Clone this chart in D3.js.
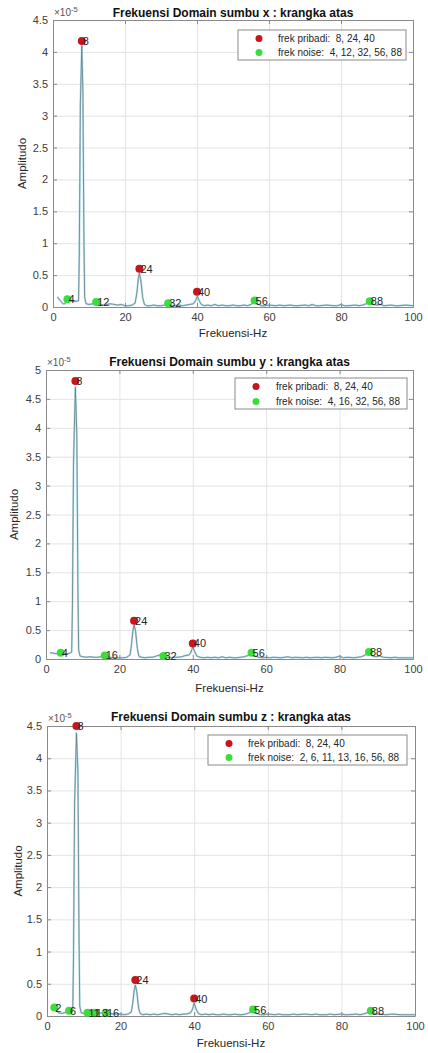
<!DOCTYPE html>
<html>
<head>
<meta charset="utf-8">
<script src="https://cdn.jsdelivr.net/npm/d3@7/dist/d3.min.js"></script>
<style>
    body { margin: 0; background: #fff; }
    svg { display: block; font-family: "Liberation Sans", Arial, sans-serif; }
</style>
</head>
<body>
<div id="chart"></div>
<script>
// values in units of 1e-5
var titles = [
    "Frekuensi Domain sumbu x : krangka atas",
    "Frekuensi Domain sumbu y : krangka atas",
    "Frekuensi Domain sumbu z : krangka atas"
];
var yMaxes = [4.5, 5, 4.5];
var xTicks = [0, 20, 40, 60, 80, 100];

var pribadiFreqs = [8, 24, 40];
var pribadiAmpX = [4.17, 0.6, 0.24];
var pribadiAmpY = [4.81, 0.66, 0.27];
var pribadiAmpZ = [4.5, 0.56, 0.27];

var noiseFreqX = [4, 12, 32, 56, 88];
var noiseAmpX = [0.12, 0.08, 0.06, 0.1, 0.09];
var noiseFreqY = [4, 16, 32, 56, 88];
var noiseAmpY = [0.11, 0.06, 0.05, 0.11, 0.12];
var noiseFreqZ = [2, 6, 11, 13, 16, 56, 88];
var noiseAmpZ = [0.13, 0.08, 0.05, 0.05, 0.05, 0.1, 0.08];

var legendPribadi = "frek pribadi:  8, 24, 40";
var legendNoiseX = "frek noise:  4, 12, 32, 56, 88";
var legendNoiseY = "frek noise:  4, 16, 32, 56, 88";
var legendNoiseZ = "frek noise:  2, 6, 11, 13, 16, 56, 88";

// [frequency Hz, amplitude]
var spectrumX = [[1.2,0.16],[2,0.1],[2.8,0.05],[3.3,0.05],[4,0.12],[4.6,0.1],[5.5,0.09],[6.5,0.09],[7.1,0.1],[7.3,0.8],[7.6,3.2],[8,4.1],[8.3,3.4],[8.6,1.0],[8.8,0.15],[9.2,0.05],[10,0.04],[11,0.05],[12,0.07],[13,0.04],[14,0.03],[15,0.04],[16,0.05],[17,0.04],[18,0.03],[19,0.04],[20,0.02],[21,0.02],[22,0.03],[22.8,0.06],[23.3,0.22],[23.7,0.45],[24,0.53],[24.4,0.42],[24.9,0.15],[25.4,0.04],[26,0.02],[27,0.02],[28,0.03],[29,0.02],[30,0.02],[31,0.03],[32,0.05],[33,0.02],[34,0.02],[35,0.03],[36,0.02],[37,0.03],[38,0.04],[39,0.05],[39.6,0.1],[40.1,0.17],[40.6,0.1],[41.2,0.04],[42,0.02],[43,0.03],[44,0.02],[45,0.04],[46,0.02],[47,0.03],[48,0.02],[49,0.02],[50,0.03],[51,0.02],[52,0.02],[53,0.03],[54,0.02],[55,0.04],[56,0.08],[57,0.04],[58,0.02],[59,0.02],[60,0.03],[62,0.02],[63,0.03],[64,0.02],[66,0.03],[67,0.02],[68,0.02],[70,0.03],[71,0.02],[72,0.04],[73,0.02],[74,0.02],[76,0.03],[78,0.02],[79,0.02],[80,0.04],[81,0.02],[82,0.02],[84,0.03],[85,0.02],[86,0.03],[87,0.05],[88,0.08],[89,0.04],[90,0.03],[91,0.04],[92,0.02],[94,0.03],[95,0.02],[96,0.02],[98,0.03],[100,0.02]];

var spectrumY = [[1.1,0.11],[2,0.1],[3,0.09],[3.6,0.09],[4,0.11],[4.6,0.1],[5.5,0.09],[6.5,0.1],[7,0.12],[7.2,0.9],[7.5,3.4],[8,4.7],[8.4,3.9],[8.7,1.2],[8.9,0.15],[9.3,0.05],[10,0.04],[11,0.03],[12,0.04],[13,0.03],[14,0.03],[15,0.04],[16,0.06],[17,0.04],[18,0.02],[19,0.02],[20,0.02],[21,0.02],[22,0.03],[22.9,0.07],[23.3,0.25],[23.7,0.5],[24,0.59],[24.4,0.48],[24.9,0.18],[25.3,0.05],[26,0.03],[27,0.02],[28,0.03],[29,0.03],[30,0.05],[31,0.07],[32,0.05],[33,0.03],[34,0.02],[35,0.03],[36,0.03],[37,0.04],[38,0.06],[39,0.07],[39.5,0.12],[40,0.21],[40.5,0.13],[41.1,0.05],[42,0.03],[43,0.02],[44,0.03],[45,0.02],[46,0.03],[47,0.02],[48,0.04],[49,0.02],[50,0.03],[51,0.02],[52,0.02],[53,0.03],[54,0.04],[55,0.06],[56,0.09],[57,0.05],[58,0.03],[59,0.02],[60,0.03],[61,0.02],[62,0.03],[64,0.02],[65,0.03],[66,0.04],[67,0.02],[68,0.03],[70,0.02],[71,0.03],[72,0.02],[74,0.03],[75,0.02],[76,0.03],[78,0.02],[79,0.03],[80,0.05],[81,0.02],[82,0.03],[84,0.02],[85,0.03],[86,0.04],[87,0.07],[88,0.1],[89,0.05],[90,0.04],[91,0.05],[92,0.03],[94,0.02],[95,0.03],[96,0.02],[98,0.02],[100,0.02]];

var spectrumZ = [[1,0.12],[1.6,0.13],[2,0.12],[2.6,0.08],[3.2,0.05],[4,0.04],[4.8,0.05],[5.5,0.07],[6,0.08],[6.6,0.07],[7,0.1],[7.2,0.9],[7.5,3.3],[8,4.39],[8.4,3.8],[8.7,1.2],[8.9,0.15],[9.3,0.05],[10,0.04],[11,0.05],[12,0.04],[13,0.05],[14,0.04],[15,0.05],[16,0.05],[17,0.04],[18,0.03],[19,0.03],[20,0.03],[21,0.02],[22,0.03],[22.9,0.06],[23.3,0.2],[23.7,0.4],[24,0.48],[24.4,0.38],[24.9,0.12],[25.3,0.04],[26,0.02],[27,0.03],[28,0.02],[29,0.03],[30,0.02],[31,0.03],[32,0.04],[33,0.03],[34,0.02],[35,0.03],[36,0.02],[37,0.03],[38,0.03],[39,0.05],[39.5,0.1],[40,0.2],[40.5,0.11],[41.1,0.04],[42,0.02],[43,0.03],[44,0.02],[45,0.03],[46,0.02],[47,0.02],[48,0.03],[49,0.02],[50,0.02],[51,0.03],[52,0.02],[53,0.02],[54,0.03],[55,0.05],[56,0.09],[57,0.04],[58,0.02],[59,0.02],[60,0.03],[62,0.02],[63,0.03],[64,0.02],[66,0.02],[67,0.03],[68,0.02],[70,0.03],[72,0.02],[73,0.03],[74,0.02],[76,0.02],[77,0.03],[78,0.02],[80,0.03],[81,0.02],[82,0.02],[84,0.03],[85,0.02],[86,0.03],[87,0.05],[88,0.07],[89,0.04],[90,0.03],[92,0.02],[94,0.03],[96,0.02],[98,0.02],[100,0.02]];

SpectrumChart = function(_svg, _box, _opts){
    vis = this;

    this.svg = _svg;
    this.box = _box;
    this.opts = _opts;
    this.width = _box.right - _box.left;
    this.height = _box.bottom - _box.top;

    this.initVis();
};

SpectrumChart.prototype.initVis = function() {
    vis = this;
    var o = vis.opts, b = vis.box;

    vis.g = vis.svg.append("g")
        .attr("transform", "translate(" + b.left + "," + b.top + ")");

    vis.x = d3.scaleLinear().domain([0, 100]).range([0, vis.width]);
    vis.y = d3.scaleLinear().domain([0, o.yMax]).range([vis.height, 0]);
    var yTicks = d3.range(0, o.yMax + 0.001, 0.5);

    // grid
    vis.g.append("g")
        .attr("class", "grid")
        .call(d3.axisLeft(vis.y).tickValues(yTicks).tickSize(-vis.width).tickFormat(""));
    vis.g.append("g")
        .attr("class", "grid")
        .attr("transform", "translate(0," + vis.height + ")")
        .call(d3.axisBottom(vis.x).tickValues(xTicks).tickSize(-vis.height).tickFormat(""));
    vis.g.selectAll(".grid line").attr("stroke", "#e3e3e3").attr("stroke-width", 1);
    vis.g.selectAll(".grid .domain").remove();

    // spectrum line: light halo + thin dark trace
    var line = d3.line()
        .x(function(d) { return vis.x(d[0]); })
        .y(function(d) { return vis.y(d[1]); });
    vis.g.append("path")
        .datum(o.spectrum)
        .attr("d", line)
        .attr("fill", "none")
        .attr("stroke", "#b8dfeb")
        .attr("stroke-width", 2)
        .attr("stroke-linejoin", "round");
    vis.g.append("path")
        .datum(o.spectrum)
        .attr("d", line)
        .attr("fill", "none")
        .attr("stroke", "#55717b")
        .attr("stroke-width", 0.7);

    // axes
    var axL = vis.g.append("g")
        .call(d3.axisLeft(vis.y).tickValues(yTicks).tickFormat(d3.format("~g"))
            .tickSizeInner(-4).tickSizeOuter(0).tickPadding(5));
    var axB = vis.g.append("g")
        .attr("transform", "translate(0," + vis.height + ")")
        .call(d3.axisBottom(vis.x).tickValues(xTicks)
            .tickSizeInner(-4).tickSizeOuter(0).tickPadding(6));
    var axR = vis.g.append("g")
        .attr("transform", "translate(" + vis.width + ",0)")
        .call(d3.axisRight(vis.y).tickValues(yTicks).tickFormat("").tickSizeInner(-4).tickSizeOuter(0));
    var axT = vis.g.append("g")
        .call(d3.axisTop(vis.x).tickValues(xTicks).tickFormat("").tickSizeInner(-4).tickSizeOuter(0));
    [axL, axB, axR, axT].forEach(function(a) {
        a.selectAll(".domain").attr("stroke", "#8a8a8a");
        a.selectAll("line").attr("stroke", "#8a8a8a");
        a.selectAll("text").attr("fill", "#404040").attr("font-size", "11px")
            .attr("font-family", "Liberation Sans, Arial, sans-serif");
    });

    // markers
    var marks = [];
    o.pribadiAmp.forEach(function(a, i) { marks.push({f: pribadiFreqs[i], a: a, c: "#c4161c"}); });
    o.noiseAmp.forEach(function(a, i) { marks.push({f: o.noiseFreq[i], a: a, c: "#3ddc3d"}); });
    vis.g.selectAll(".mk").data(marks).enter().append("circle")
        .attr("cx", function(d) { return vis.x(d.f); })
        .attr("cy", function(d) { return vis.y(d.a); })
        .attr("r", 4)
        .attr("fill", function(d) { return d.c; });
    vis.g.selectAll(".lb").data(marks).enter().append("text")
        .attr("x", function(d) { return vis.x(d.f) + 1; })
        .attr("y", function(d) { return vis.y(d.a); })
        .attr("dy", "0.36em")
        .attr("font-size", "11px")
        .attr("fill", "#262626")
        .text(function(d) { return d.f; });

    // title, labels
    vis.svg.append("text")
        .attr("x", b.left + vis.width / 2)
        .attr("y", o.titleY)
        .attr("text-anchor", "middle")
        .attr("font-size", "12px")
        .attr("font-weight", "bold")
        .attr("fill", "#111")
        .text(o.title);
    vis.svg.append("text")
        .attr("x", b.left + vis.width / 2)
        .attr("y", o.xLabelY)
        .attr("text-anchor", "middle")
        .attr("dy", "0.36em")
        .attr("font-size", "11.5px")
        .attr("fill", "#262626")
        .text("Frekuensi-Hz");
    vis.svg.append("text")
        .attr("transform", "translate(" + o.yLabelX + "," + (b.top + vis.height / 2) + ") rotate(-90)")
        .attr("text-anchor", "middle")
        .attr("dy", "0.36em")
        .attr("font-size", "11.5px")
        .attr("fill", "#262626")
        .text("Amplitudo");

    // x10^-5 exponent
    var ex = vis.svg.append("text")
        .attr("x", b.left + 1)
        .attr("y", b.top - 4)
        .attr("font-size", "10px")
        .attr("fill", "#555");
    ex.append("tspan").text("\u00d710");
    ex.append("tspan").attr("dy", "-4").attr("font-size", "7.5px").text("-5");

    // legend
    var lg = o.legend;
    vis.svg.append("rect")
        .attr("x", lg.x0).attr("y", lg.y0)
        .attr("width", lg.x1 - lg.x0).attr("height", lg.y1 - lg.y0)
        .attr("fill", "#fff").attr("stroke", "#8a8a8a").attr("stroke-width", 1);
    var items = [{c: "#c4161c", t: legendPribadi}, {c: "#3ddc3d", t: o.legendNoise}];
    var rowH = (lg.y1 - lg.y0 - 16) / 1;
    items.forEach(function(it, i) {
        var yy = lg.y0 + 8.5 + i * rowH;
        vis.svg.append("circle").attr("cx", lg.mx).attr("cy", yy).attr("r", 3.5).attr("fill", it.c);
        vis.svg.append("text").attr("x", lg.tx).attr("y", yy).attr("dy", "0.36em")
            .attr("font-size", "10px").attr("fill", "#262626")
            .attr("xml:space", "preserve").style("white-space", "pre")
            .text(it.t);
    });
};

var svg = d3.select("#chart").append("svg").attr("width", 428).attr("height", 1053);

new SpectrumChart(svg, {left: 53, right: 413, top: 20, bottom: 307}, {
    yMax: yMaxes[0], title: titles[0], spectrum: spectrumX,
    pribadiAmp: pribadiAmpX, noiseFreq: noiseFreqX, noiseAmp: noiseAmpX, legendNoise: legendNoiseX,
    titleY: 17, xLabelY: 333, yLabelX: 22,
    legend: {x0: 238, y0: 30, x1: 406, y1: 60, mx: 259, tx: 278}
});
new SpectrumChart(svg, {left: 46, right: 413, top: 370, bottom: 659}, {
    yMax: yMaxes[1], title: titles[1], spectrum: spectrumY,
    pribadiAmp: pribadiAmpY, noiseFreq: noiseFreqY, noiseAmp: noiseAmpY, legendNoise: legendNoiseY,
    titleY: 366, xLabelY: 688, yLabelX: 14,
    legend: {x0: 235, y0: 378, x1: 407, y1: 409, mx: 256, tx: 276}
});
new SpectrumChart(svg, {left: 47, right: 415, top: 726, bottom: 1016}, {
    yMax: yMaxes[2], title: titles[2], spectrum: spectrumZ,
    pribadiAmp: pribadiAmpZ, noiseFreq: noiseFreqZ, noiseAmp: noiseAmpZ, legendNoise: legendNoiseZ,
    titleY: 721, xLabelY: 1043, yLabelX: 18,
    legend: {x0: 208, y0: 735, x1: 407, y1: 765, mx: 229, tx: 248}
});
</script>
</body>
</html>
